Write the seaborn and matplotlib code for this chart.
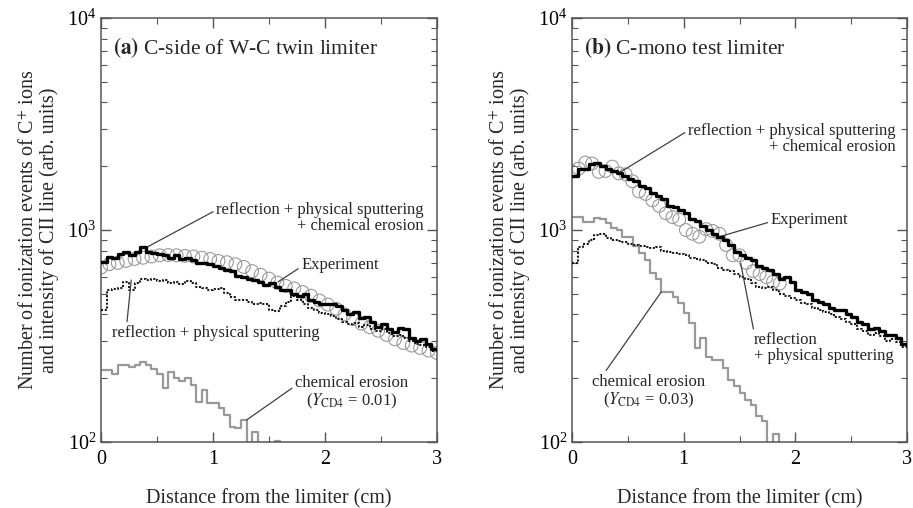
import numpy as np
import matplotlib
matplotlib.use("Agg")
import matplotlib.pyplot as plt
import seaborn as sns

# bin edges of the simulated histograms (cm)
bin_edges = np.linspace(0, 3, 61)

# (a) C-side of W-C twin limiter
a_total = [710, 750, 740, 770, 790, 760, 790, 830, 790, 780,
           770, 760, 740, 760, 730, 740, 720, 700, 700, 690,
           680, 660, 650, 640, 610, 600, 590, 580, 570, 550,
           560, 540, 520, 520, 500, 490, 500, 470, 460, 450,
           450, 450, 440, 420, 400, 410, 385, 390, 370, 350,
           360, 340, 330, 345, 340, 310, 300, 305, 290, 275]
a_refl = [420, 520, 525, 530, 570, 520, 560, 590, 580, 585,
          575, 580, 560, 570, 555, 575, 560, 540, 530, 520,
          525, 530, 505, 485, 470, 470, 460, 450, 455, 450,
          420, 415, 440, 460, 490, 470, 450, 430, 420, 405,
          400, 395, 380, 370, 360, 365, 350, 355, 340, 335,
          340, 325, 315, 320, 310, 300, 290, 288, 280, 268]
a_chem = [219, 219, 210, 231, 231, 226, 232, 238, 230, 220,
          210, 180, 214, 200, 193, 200, 186, 155, 176, 153,
          153, 145, 134, 118, 117, 127, 80, 111, 80, 80,
          80, 101, 70, 70, 70, 60, 60, 60, 60, 60,
          60, 60, 60, 60, 60, 60, 60, 60, 60, 60,
          60, 60, 60, 60, 60, 60, 60, 60, 60, 60]
a_exp_x = [0.0, 0.075, 0.15, 0.225, 0.3, 0.375, 0.45, 0.525, 0.6, 0.675,
           0.75, 0.825, 0.9, 0.975, 1.05, 1.125, 1.2, 1.275, 1.35, 1.425,
           1.5, 1.575, 1.65, 1.725, 1.8, 1.875, 1.95, 2.025, 2.1, 2.175,
           2.25, 2.325, 2.4, 2.475, 2.55, 2.625, 2.7, 2.775, 2.85, 2.925, 3.0]
a_exp_y = [665, 690, 700, 715, 730, 740, 750, 760, 762, 760,
           755, 750, 740, 730, 715, 705, 690, 670, 640, 615,
           590, 565, 545, 530, 510, 490, 465, 445, 425, 400,
           380, 362, 348, 335, 320, 305, 293, 285, 278, 270, 263]

# (b) C-mono test limiter
b_total = [1800, 1950, 1950, 2050, 2080, 2000, 1950, 1900, 1850, 1800,
           1750, 1700, 1620, 1580, 1500, 1450, 1400, 1300, 1280, 1240,
           1200, 1130, 1100, 1050, 1000, 960, 930, 900, 850, 790,
           760, 740, 720, 680, 660, 645, 620, 590, 600, 570,
           520, 510, 500, 470, 460, 450, 430, 420, 420, 400,
           390, 370, 360, 340, 345, 335, 320, 320, 310, 290]
b_refl = [700, 830, 860, 900, 950, 960, 920, 900, 890, 880,
          860, 850, 840, 830, 820, 830, 800, 790, 780, 770,
          760, 740, 730, 720, 700, 690, 660, 650, 640, 620,
          600, 590, 560, 540, 530, 540, 520, 500, 490, 480,
          470, 455, 450, 430, 420, 410, 400, 390, 380, 370,
          360, 340, 335, 320, 325, 315, 300, 305, 295, 280]
b_chem = [1150, 1150, 1090, 1090, 1140, 1130, 1075, 1020, 1000, 930,
          930, 840, 780, 720, 630, 585, 512, 512, 484, 453,
          405, 364, 277, 309, 253, 244, 244, 223, 196, 183,
          170, 158, 150, 133, 125, 80, 109, 60, 60, 60,
          60, 60, 60, 60, 60, 60, 60, 60, 60, 60,
          60, 60, 60, 60, 60, 60, 60, 60, 60, 60]
b_exp_x = [0.0, 0.06, 0.12, 0.18, 0.24, 0.30, 0.36, 0.42, 0.48, 0.54,
           0.60, 0.66, 0.72, 0.78, 0.84, 0.90, 0.96, 1.02, 1.08, 1.14,
           1.20, 1.26, 1.32, 1.38, 1.44, 1.50, 1.56, 1.62, 1.68, 1.74,
           1.80, 1.86]
b_exp_y = [1890, 1950, 2080, 2060, 1880, 1900, 1990, 1850, 1830, 1700,
           1520, 1480, 1380, 1300, 1200, 1150, 1120, 1000, 960, 930,
           1010, 990, 960, 850, 760, 760, 700, 640, 620, 600,
           570, 560]

sns.set_style("ticks")
plt.rcParams['font.family'] = ['Liberation Serif', 'DejaVu Serif']
plt.rcParams['mathtext.fontset'] = 'stix'

fig = plt.figure(figsize=(9.13, 5.08), dpi=100)
ax_a = fig.add_axes([0.1106, 0.1299, 0.368, 0.8346])
ax_b = fig.add_axes([0.6265, 0.1299, 0.367, 0.8346])

frame = '#555555'


def draw_panel(ax, total, refl, chem, ex, ey):
    ax.set_yscale('log')
    # experiment: open grey circles, under the histograms
    sns.scatterplot(x=ex, y=ey, ax=ax, marker='o', s=85, facecolor='none',
                    edgecolor='0.6', linewidth=0.8, zorder=1)
    # histograms (last value repeated to close the final bin)
    sns.lineplot(x=bin_edges, y=chem + chem[-1:], ax=ax, drawstyle='steps-post',
                 color='0.6', lw=1.6, zorder=2)
    sns.lineplot(x=bin_edges, y=refl + refl[-1:], ax=ax, drawstyle='steps-post',
                 color='0.1', lw=1.5, ls=(0, (1, 0.8)), zorder=3)
    sns.lineplot(x=bin_edges, y=total + total[-1:], ax=ax, drawstyle='steps-post',
                 color='black', lw=2.4, zorder=4)

    ax.set_xlim(0, 3)
    ax.set_ylim(1e2, 1e4)
    ax.set_xticks([0, 1, 2, 3])
    ax.set_xticks([0.5, 1.5, 2.5], minor=True)
    ax.tick_params(which='both', direction='in', top=True, right=True,
                   colors=frame, labelcolor='black', labelsize=14.5)
    ax.tick_params(which='major', length=7, width=1)
    ax.tick_params(which='minor', length=4, width=0.8)
    ax.tick_params(axis='x', pad=6)
    for sp in ax.spines.values():
        sp.set_color(frame)
        sp.set_linewidth(1.1)
        sp.set_visible(True)
    ax.set_xlabel('Distance from the limiter (cm)', fontsize=14.5, labelpad=14)
    ax.set_ylabel('Number of ionization events of C$^{+}$ ions\n'
                  'and intensity of CII line (arb. units)', fontsize=14.5,
                  labelpad=6, linespacing=1.0)


draw_panel(ax_a, a_total, a_refl, a_chem, a_exp_x, a_exp_y)
draw_panel(ax_b, b_total, b_refl, b_chem, b_exp_x, b_exp_y)

ann = dict(arrowstyle='-', color='0.25', lw=0.9, shrinkA=0, shrinkB=0)
fs = 12

# panel (a) texts
ax_a.text(0.035, 0.93, r'$\mathbf{(a)}$ C-side of W-C twin limiter',
          transform=ax_a.transAxes, fontsize=15.5, va='center')
ax_a.annotate('reflection + physical sputtering\n+ chemical erosion',
              xy=(0.41, 830), xytext=(1.03, 1140), fontsize=fs,
              ha='left', va='center', multialignment='right', linespacing=1.0,
              arrowprops=dict(ann, relpos=(0.0, 0.75)))
ax_a.annotate('Experiment', xy=(1.58, 569), xytext=(1.79, 684), fontsize=fs,
              ha='left', va='center', arrowprops=dict(ann, relpos=(0.0, 0.4)))
ax_a.annotate('reflection + physical sputtering', xy=(0.27, 581),
              xytext=(0.10, 327), fontsize=fs, ha='left', va='center',
              arrowprops=dict(ann, relpos=(0.07, 1.0)))
ax_a.annotate('chemical erosion\n' + r'($Y_{\mathrm{CD4}}$ = 0.01)',
              xy=(1.30, 127), xytext=(2.24, 170), fontsize=fs,
              ha='center', va='center', linespacing=1.1,
              arrowprops=dict(ann, relpos=(0.0, 0.7)))

# panel (b) texts
ax_b.text(0.035, 0.93, r'$\mathbf{(b)}$ C-mono test limiter',
          transform=ax_b.transAxes, fontsize=15.5, va='center')
ax_b.annotate('reflection + physical sputtering\n+ chemical erosion',
              xy=(0.42, 1858), xytext=(1.04, 2700), fontsize=fs,
              ha='left', va='center', multialignment='right', linespacing=1.0,
              arrowprops=dict(ann, relpos=(0.0, 0.75)))
ax_b.annotate('Experiment', xy=(1.31, 927), xytext=(1.78, 1114), fontsize=fs,
              ha='left', va='center', arrowprops=dict(ann, relpos=(0.0, 0.4)))
ax_b.annotate('reflection\n+ physical sputtering', xy=(1.51, 698),
              xytext=(1.63, 277), fontsize=fs, ha='left', va='center',
              linespacing=1.0, arrowprops=dict(ann, relpos=(0.0, 1.0)))
ax_b.annotate('chemical erosion\n' + r'($Y_{\mathrm{CD4}}$ = 0.03)',
              xy=(0.80, 511), xytext=(0.69, 172), fontsize=fs,
              ha='center', va='center', linespacing=1.1,
              arrowprops=dict(ann, relpos=(0.1, 1.0)))

fig.savefig('out.png', dpi=100)
